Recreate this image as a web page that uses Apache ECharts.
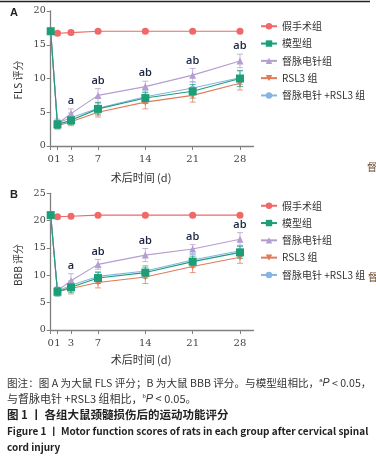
<!DOCTYPE html>
<html><head><meta charset="utf-8">
<script src="https://cdn.jsdelivr.net/npm/echarts@6/dist/echarts.min.js"></script>
<style>html,body{margin:0;padding:0;background:#fff}#c{width:376px;height:464px}</style>
</head><body><div id="c"></div>
<script>
// ---- data ----
const days = [0, 1, 3, 7, 14, 21, 28];
const xTickValues = [0, 1, 3, 7, 14, 21, 28];
const groups = ['假手术组', '模型组', '督脉电针组', 'RSL3 组', '督脉电针 +RSL3 组'];
const sigLabels = ['', '', 'a', 'ab', 'ab', 'ab', 'ab'];

// Panel A: FLS
const flsSham = [17, 16.7, 16.8, 17, 17, 17, 17];
const flsShamSd = [0, 0.3, 0.3, 0.2, 0.2, 0.2, 0.2];
const flsModel = [17, 3.2, 3.8, 5.5, 7.1, 8.1, 10.0];
const flsModelSd = [0, 0.6, 0.6, 0.9, 0.8, 1.0, 1.2];
const flsDM = [17, 3.3, 4.8, 7.5, 8.8, 10.5, 12.6];
const flsDMSd = [0, 0.5, 0.7, 1.0, 0.8, 1.0, 1.0];
const flsRSL3 = [17, 3.0, 3.6, 5.0, 6.5, 7.5, 9.3];
const flsRSL3Sd = [0, 0.5, 0.6, 0.7, 1.0, 1.0, 1.0];
const flsDMR = [17, 3.4, 4.2, 5.6, 7.3, 8.6, 10.1];
const flsDMRSd = [0, 0.6, 0.7, 0.8, 0.9, 0.9, 1.0];

// Panel B: BBB
const bbbSham = [21, 20.7, 20.8, 21, 21, 21, 21];
const bbbShamSd = [0, 0.3, 0.2, 0.2, 0.2, 0.2, 0.2];
const bbbModel = [21, 7.0, 7.8, 9.5, 10.5, 12.5, 14.2];
const bbbModelSd = [0, 0.8, 0.9, 1.0, 1.0, 1.0, 1.1];
const bbbDM = [21, 7.2, 9.0, 12.0, 13.7, 14.8, 16.6];
const bbbDMSd = [0, 0.6, 1.3, 0.9, 1.2, 0.8, 1.2];
const bbbRSL3 = [21, 7.0, 7.6, 8.7, 9.7, 11.6, 13.3];
const bbbRSL3Sd = [0, 0.6, 1.0, 1.0, 1.2, 1.1, 1.1];
const bbbDMR = [21, 7.1, 8.2, 9.8, 10.8, 12.8, 14.5];
const bbbDMRSd = [0, 0.7, 0.8, 0.9, 1.0, 1.0, 1.0];

// ---- styles ----
const colors = ['#f06868', '#1c9f78', '#b49dcf', '#e07a58', '#86b4e2'];
const symbols = ['circle', 'rect', 'triangle', 'path://M0,0 L10,0 L5,9 Z', 'circle'];
const symSizes = [7, 8, 7, 7, 5];
const drawOrder = [0, 3, 4, 2, 1];

const chart = echarts.init(document.getElementById('c'), null, {renderer: 'canvas'});

function pts(vals) { return days.map((d, i) => [d, vals[i]]); }
function errs(vals, sds) {
  return days.map((d, i) => [d, vals[i] - sds[i], vals[i] + sds[i]]).filter((r, i) => sds[i] > 0);
}

const panels = [
  {vals: [flsSham, flsModel, flsDM, flsRSL3, flsDMR], sds: [flsShamSd, flsModelSd, flsDMSd, flsRSL3Sd, flsDMRSd]},
  {vals: [bbbSham, bbbModel, bbbDM, bbbRSL3, bbbDMR], sds: [bbbShamSd, bbbModelSd, bbbDMSd, bbbRSL3Sd, bbbDMRSd]}
];

const series = [];
panels.forEach((p, pi) => {
  drawOrder.forEach(gi => {
    series.push({
      type: 'custom', xAxisIndex: pi, yAxisIndex: pi, silent: true, z: 1,
      data: errs(p.vals[gi], p.sds[gi]),
      encode: {x: 0, y: [1, 2]},
      renderItem: (params, api) => {
        const x = api.value(0);
        const a = api.coord([x, api.value(1)]);
        const b = api.coord([x, api.value(2)]);
        const w = 3;
        const st = {stroke: colors[gi], lineWidth: 1, opacity: 0.75};
        return {type: 'group', children: [
          {type: 'line', shape: {x1: a[0], y1: a[1], x2: b[0], y2: b[1]}, style: st},
          {type: 'line', shape: {x1: a[0] - w, y1: a[1], x2: a[0] + w, y2: a[1]}, style: st},
          {type: 'line', shape: {x1: b[0] - w, y1: b[1], x2: b[0] + w, y2: b[1]}, style: st}
        ]};
      }
    });
  });
  drawOrder.forEach((gi, k) => {
    series.push({
      name: groups[gi], type: 'line', xAxisIndex: pi, yAxisIndex: pi,
      data: pts(p.vals[gi]), symbol: symbols[gi], symbolSize: symSizes[gi],
      z: 3 + k, color: colors[gi],
      lineStyle: {width: 1.1, color: colors[gi]},
      itemStyle: {color: colors[gi]}, emphasis: {disabled: true}, animation: false
    });
  });
  series.push({
    type: 'custom', xAxisIndex: pi, yAxisIndex: pi, silent: true, z: 10,
    data: days.map((d, i) => [d, p.vals[2][i] + p.sds[2][i], i]),
    encode: {x: 0, y: 1},
    renderItem: (params, api) => {
      const lab = sigLabels[api.value(2)];
      if (!lab) return null;
      const c = api.coord([api.value(0), api.value(1)]);
      return {type: 'text', x: c[0], y: c[1] - 8, style: {
        text: lab, align: 'center', verticalAlign: 'middle',
        font: '600 11px "Open Sans", "Noto Sans", sans-serif', fill: '#1b2340'}};
    }
  });
});

const axisCommonX = {
  type: 'value', min: 0, max: 30,
  axisLine: {lineStyle: {color: '#808080', width: 1.3}},
  axisTick: {show: true, length: 4, lineStyle: {color: '#808080'}, customValues: xTickValues},
  axisLabel: {customValues: xTickValues, showMinLabel: true, showMaxLabel: true, hideOverlap: false,
    color: '#444', fontFamily: '"DejaVu Serif", serif', fontSize: 10, margin: 8},
  splitLine: {show: false}
};
function yAxis(max) {
  return {
    type: 'value', min: 0, max: max, interval: 5,
    axisLine: {show: true, lineStyle: {color: '#808080', width: 1.3}},
    axisTick: {show: true, length: 4, lineStyle: {color: '#808080'}},
    axisLabel: {color: '#444', fontFamily: '"DejaVu Serif", serif', fontSize: 9.5, margin: 5, showMinLabel: true, showMaxLabel: true},
    splitLine: {show: false}
  };
}

const legendCommon = {
  orient: 'vertical', left: 255, itemWidth: 16, itemHeight: 8, itemGap: 4.8,
  data: groups, selectedMode: false,
  textStyle: {fontSize: 10, color: '#333', fontFamily: '"Noto Sans CJK SC", sans-serif', lineHeight: 12.5}
};

const richSup = {sup: {fontSize: 6, verticalAlign: 'top', padding: [0, 0, 5, 0], fill: '#333'}, it: {fontStyle: 'italic', fill: '#333'}};

chart.setOption({
  animation: false,
  grid: [
    {left: 50.7, top: 11, width: 202.8, height: 135},
    {left: 50.7, top: 193.3, width: 202.8, height: 136.7}
  ],
  xAxis: [Object.assign({gridIndex: 0}, axisCommonX), Object.assign({gridIndex: 1}, axisCommonX)],
  yAxis: [Object.assign({gridIndex: 0}, yAxis(20)), Object.assign({gridIndex: 1}, yAxis(25))],
  legend: [Object.assign({top: 15}, legendCommon), Object.assign({top: 194.5}, legendCommon)],
  series: series,
  graphic: [
    {type: 'line', shape: {x1: 0, y1: 1.5, x2: 370, y2: 1.5}, style: {stroke: '#222', lineWidth: 1.5}},
    {type: 'text', x: 10, y: 13, style: {text: 'A', font: 'bold 11px "Liberation Sans", Arial, sans-serif', fill: '#222', verticalAlign: 'middle'}},
    {type: 'text', x: 10, y: 195, style: {text: 'B', font: 'bold 11px "Liberation Sans", Arial, sans-serif', fill: '#222', verticalAlign: 'middle'}},
    {type: 'text', x: 18, y: 80, rotation: Math.PI / 2, style: {text: 'FLS 评分', font: '10px "Noto Sans CJK SC", sans-serif', fill: '#333', align: 'center', verticalAlign: 'middle'}},
    {type: 'text', x: 18, y: 265, rotation: Math.PI / 2, style: {text: 'BBB 评分', font: '10px "Noto Sans CJK SC", sans-serif', fill: '#333', align: 'center', verticalAlign: 'middle'}},
    {type: 'text', x: 141, y: 178, style: {text: '术后时间 (d)', font: '11px "Noto Sans CJK SC", sans-serif', fill: '#333', align: 'center', verticalAlign: 'middle'}},
    {type: 'text', x: 141, y: 360, style: {text: '术后时间 (d)', font: '11px "Noto Sans CJK SC", sans-serif', fill: '#333', align: 'center', verticalAlign: 'middle'}},
    {type: 'text', x: 367, y: 167, style: {text: '督', font: '10px "Noto Sans CJK SC", sans-serif', fill: '#6b4a2e', verticalAlign: 'middle'}},
    {type: 'text', x: 368, y: 277, style: {text: '督', font: '10px "Noto Sans CJK SC", sans-serif', fill: '#6b4a2e', verticalAlign: 'middle'}},
    {type: 'text', x: 7, y: 383, style: {
      text: '图注：图 A 为大鼠 FLS 评分；B 为大鼠 BBB 评分。与模型组相比，{sup|a}{it|P} < 0.05，',
      font: '10.6px "Noto Sans CJK SC", sans-serif', fill: '#333', verticalAlign: 'middle',
      rich: {sup: richSup.sup, it: {fontStyle: 'italic', fontSize: 10.6, fill: '#333'}}}},
    {type: 'text', x: 7, y: 398.5, style: {
      text: '与督脉电针 +RSL3 组相比，{sup|b}{it|P} < 0.05。',
      font: '11px "Noto Sans CJK SC", sans-serif', fill: '#333', verticalAlign: 'middle',
      rich: {sup: richSup.sup, it: {fontStyle: 'italic', fontSize: 11, fill: '#333'}}}},
    {type: 'text', x: 7, y: 414.5, style: {text: '图 1 丨 各组大鼠颈髓损伤后的运动功能评分', font: 'bold 11.5px "Noto Sans CJK SC", sans-serif', fill: '#222', verticalAlign: 'middle'}},
    {type: 'text', x: 7, y: 431.5, style: {text: 'Figure 1 丨 Motor function scores of rats in each group after cervical spinal', font: 'bold 10px "Noto Sans CJK SC", sans-serif', fill: '#222', verticalAlign: 'middle'}},
    {type: 'text', x: 7, y: 447.5, style: {text: 'cord injury', font: 'bold 10px "Noto Sans CJK SC", sans-serif', fill: '#222', verticalAlign: 'middle'}}
  ]
});
</script></body></html>
